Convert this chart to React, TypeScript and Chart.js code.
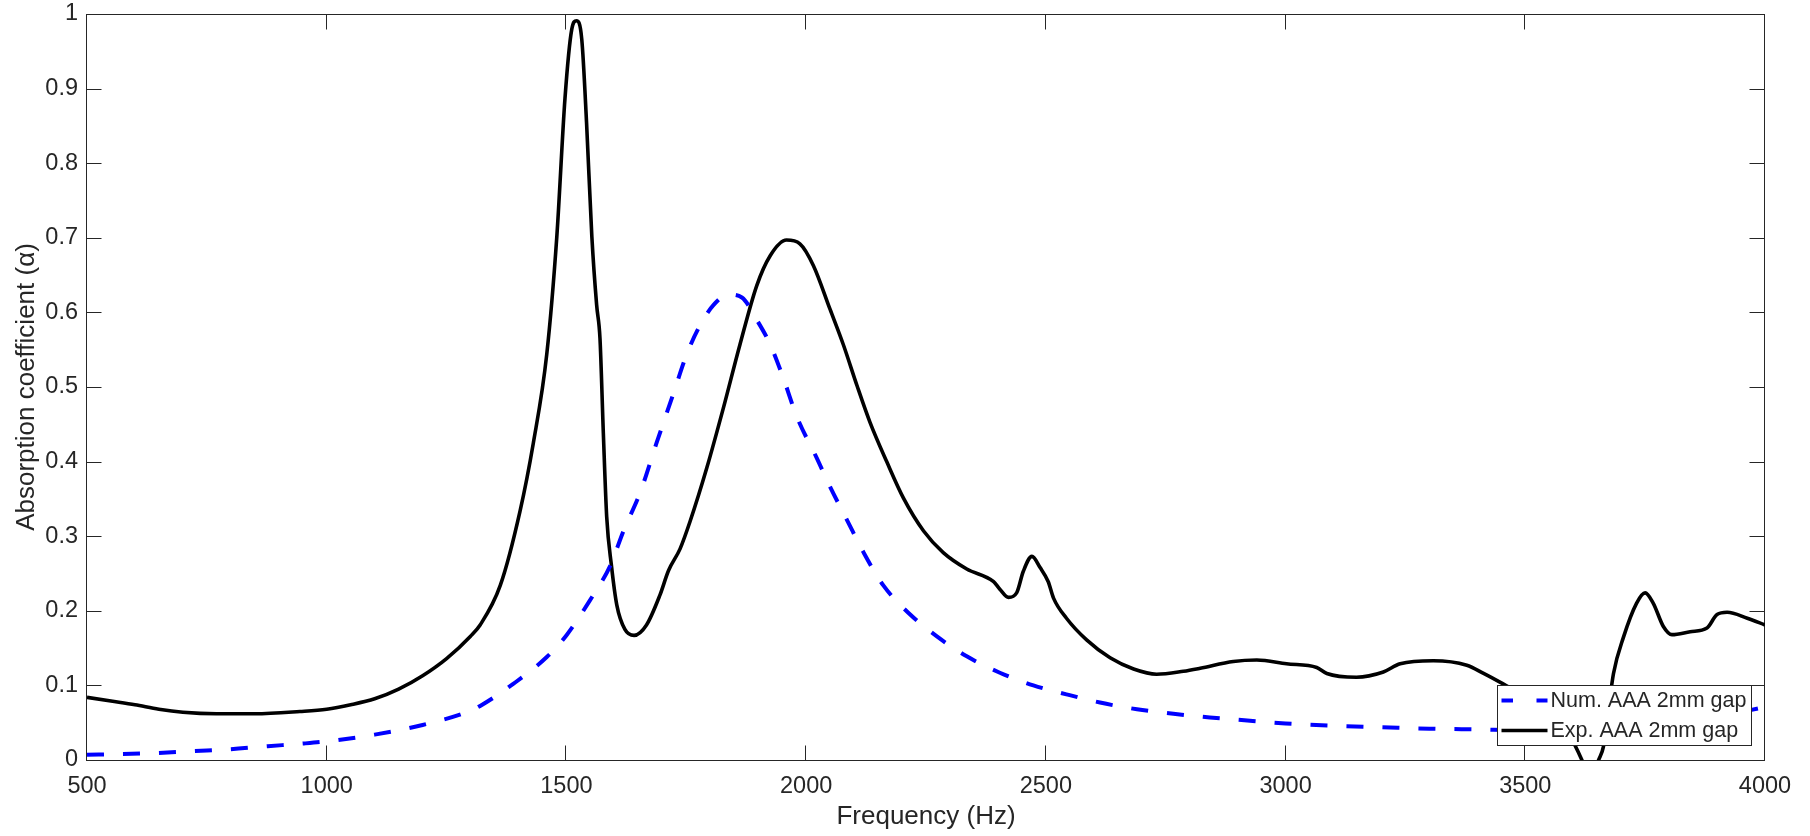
import React, { useEffect, useRef } from 'react';
import { Chart, registerables } from 'chart.js';

Chart.register(...registerables);

// ---- Data ----
const numFreq = [
  500, 575, 650, 725, 800, 877, 950, 1000, 1100, 1200, 1300, 1320, 1389, 1459, 1501, 1549,
  1591, 1619, 1654, 1688, 1723, 1751, 1779, 1807, 1838, 1866, 1897, 1925, 1953, 1980,
  2022, 2050, 2085, 2120, 2161, 2217, 2272, 2335, 2404, 2474, 2543, 2613, 2690, 2766,
  2842, 2920, 3000, 3100, 3200, 3300, 3400, 3500, 3600, 3700, 3800, 3900, 4000,
];
const numAlpha = [
  0.007, 0.008, 0.0095, 0.012, 0.0145, 0.0185, 0.022, 0.025, 0.034, 0.047, 0.066, 0.0725,
  0.102, 0.138, 0.168, 0.214, 0.26, 0.307, 0.359, 0.425, 0.491, 0.544, 0.583, 0.61, 0.624,
  0.62, 0.59, 0.557, 0.511, 0.461, 0.405, 0.366, 0.322, 0.278, 0.234, 0.195, 0.166,
  0.139, 0.117, 0.1, 0.088, 0.077, 0.068, 0.062, 0.057, 0.053, 0.049, 0.046, 0.044,
  0.042, 0.041, 0.04, 0.041, 0.044, 0.05, 0.058, 0.071,
];

const expFreq = [
  500, 550, 600, 650, 700, 770, 850, 944, 1000, 1050, 1100, 1150, 1200, 1250, 1300, 1320,
  1362, 1403, 1431, 1459, 1480, 1497, 1511, 1521, 1532, 1542, 1553, 1563, 1570, 1577,
  1584, 1594, 1605, 1622, 1641, 1667, 1695, 1713, 1737, 1758, 1793, 1827, 1862, 1897,
  1925, 1959, 1987, 2015, 2050, 2078, 2106, 2133, 2168, 2203, 2245, 2286, 2335, 2391,
  2404, 2422, 2439, 2453, 2471, 2488, 2505, 2516, 2543, 2585, 2634, 2683, 2731, 2787,
  2822, 2891, 2940, 3002, 3065, 3086, 3148, 3204, 3239, 3308, 3378, 3413, 3448, 3500,
  3550, 3590, 3618, 3635, 3653, 3663, 3684, 3705, 3732, 3750, 3767, 3788, 3806, 3844,
  3879, 3900, 3921, 3963, 4000,
];
const expAlpha = [
  0.084, 0.079, 0.074, 0.068, 0.064, 0.062, 0.062, 0.065, 0.068, 0.074, 0.082, 0.095,
  0.113, 0.136, 0.166, 0.181, 0.234, 0.333, 0.425, 0.544, 0.702, 0.887, 0.979, 0.991,
  0.966, 0.854, 0.702, 0.61, 0.565, 0.438, 0.326, 0.26, 0.208, 0.175, 0.167, 0.181,
  0.221, 0.254, 0.283, 0.32, 0.392, 0.471, 0.557, 0.636, 0.676, 0.697, 0.692, 0.663,
  0.604, 0.556, 0.502, 0.453, 0.4, 0.351, 0.307, 0.278, 0.256, 0.239, 0.229, 0.218,
  0.224, 0.253, 0.273, 0.258, 0.239, 0.217, 0.19, 0.161, 0.137, 0.122, 0.115, 0.119,
  0.123, 0.132, 0.134, 0.129, 0.124, 0.116, 0.111, 0.118, 0.129, 0.133, 0.127, 0.116,
  0.104, 0.085, 0.062, 0.035, 0.0, -0.03, 0.0, 0.018, 0.116, 0.165, 0.21, 0.224, 0.21,
  0.179, 0.168, 0.172, 0.177, 0.195, 0.198, 0.19, 0.181,
];

const xTickValues = [500, 1000, 1500, 2000, 2500, 3000, 3500, 4000];
const yTickValues = [0, 0.1, 0.2, 0.3, 0.4, 0.5, 0.6, 0.7, 0.8, 0.9, 1];
const seriesLabels = ['Num. AAA 2mm gap', 'Exp. AAA 2mm gap'];
const xTitle = 'Frequency (Hz)';
const yTitle = 'Absorption coefficient (\u03B1)';

const FONT = "'Liberation Sans', Arial, Helvetica, sans-serif";
const TEXT = '#262626';
const NUM_COLOR = '#0000ff';
const EXP_COLOR = '#000000';

const axesBoxPlugin = {
  id: 'axesBox',
  beforeDatasetsDraw(chart: any) {
    const { ctx, chartArea: a, scales } = chart;
    ctx.save();
    ctx.strokeStyle = TEXT;
    ctx.lineWidth = 1;
    const L = Math.round(a.left) - 0.5;
    const R = Math.round(a.right) - 0.5;
    const T = Math.round(a.top) + 0.5;
    const B = Math.round(a.bottom) + 0.5;
    ctx.strokeRect(L, T, R - L, B - T);
    const tl = 15;
    ctx.beginPath();
    for (const v of xTickValues) {
      const px = Math.round(scales.x.getPixelForValue(v)) - 0.5;
      ctx.moveTo(px, B);
      ctx.lineTo(px, B - tl);
      ctx.moveTo(px, T);
      ctx.lineTo(px, T + tl);
    }
    for (const v of yTickValues) {
      const py = Math.round(scales.y.getPixelForValue(v)) + 0.5;
      ctx.moveTo(L, py);
      ctx.lineTo(L + tl, py);
      ctx.moveTo(R, py);
      ctx.lineTo(R - tl, py);
    }
    ctx.stroke();
    ctx.restore();
  },
  afterDatasetsDraw(chart: any) {
    const { ctx, chartArea: a } = chart;
    ctx.save();
    const w = 254;
    const h = 60;
    const x0 = Math.round(a.right) - 14 - w + 0.5;
    const y0 = Math.round(a.bottom) - 15 - h + 0.5;
    ctx.fillStyle = '#ffffff';
    ctx.fillRect(x0, y0, w, h);
    ctx.strokeStyle = TEXT;
    ctx.lineWidth = 1;
    ctx.strokeRect(x0, y0, w, h);

    const sx0 = x0 + 4;
    const sx1 = x0 + 50;
    const rows = [y0 + 15, y0 + 45];
    ctx.beginPath();
    ctx.strokeStyle = NUM_COLOR;
    ctx.lineWidth = 4;
    ctx.setLineDash([11.5, 23.5]);
    ctx.moveTo(sx0, rows[0]);
    ctx.lineTo(sx1, rows[0]);
    ctx.stroke();
    ctx.beginPath();
    ctx.setLineDash([]);
    ctx.strokeStyle = EXP_COLOR;
    ctx.lineWidth = 3.6;
    ctx.moveTo(sx0, rows[1]);
    ctx.lineTo(sx1, rows[1]);
    ctx.stroke();

    ctx.fillStyle = TEXT;
    ctx.font = `21.5px ${FONT}`;
    ctx.textBaseline = 'middle';
    ctx.textAlign = 'left';
    ctx.fillText(seriesLabels[0], sx1 + 3, rows[0] + 1);
    ctx.fillText(seriesLabels[1], sx1 + 3, rows[1] + 1);
    ctx.restore();
  },
};

export default function App() {
  const canvasRef = useRef<HTMLCanvasElement | null>(null);

  useEffect(() => {
    const canvas = canvasRef.current;
    if (!canvas) return;
    const numData = numFreq.map((f, i) => ({ x: f, y: numAlpha[i] }));
    const expData = expFreq.map((f, i) => ({ x: f, y: expAlpha[i] }));

    const chart = new Chart(canvas, {
      type: 'line',
      data: {
        datasets: [
          {
            label: seriesLabels[0],
            data: numData,
            borderColor: NUM_COLOR,
            borderWidth: 4,
            borderDash: [17, 19],
            pointRadius: 0,
            fill: false,
            cubicInterpolationMode: 'monotone',
          },
          {
            label: seriesLabels[1],
            data: expData,
            borderColor: EXP_COLOR,
            borderWidth: 3.6,
            pointRadius: 0,
            fill: false,
            cubicInterpolationMode: 'monotone',
          },
        ],
      },
      options: {
        animation: false,
        responsive: false,
        devicePixelRatio: 1,
        layout: { padding: { left: 0, right: 45, top: 14, bottom: 0 } },
        plugins: {
          legend: { display: false },
          tooltip: { enabled: false },
        },
        scales: {
          x: {
            type: 'linear',
            min: 500,
            max: 4000,
            afterBuildTicks: (scale: any) => {
              scale.ticks = xTickValues.map((v) => ({ value: v }));
            },
            afterFit: (scale: any) => {
              scale.height = 76;
              scale.paddingLeft = 0;
              scale.paddingRight = 0;
            },
            grid: { display: false, drawTicks: false },
            border: { display: false },
            ticks: {
              autoSkip: false,
              maxRotation: 0,
              padding: 12,
              color: TEXT,
              font: { family: FONT, size: 23.5, lineHeight: 1.2 },
              callback: (v: any) => String(v),
            },
            title: {
              display: true,
              text: xTitle,
              color: TEXT,
              font: { family: FONT, size: 26, lineHeight: 1.2 },
              padding: { top: 0, bottom: 4 },
            },
          },
          y: {
            type: 'linear',
            min: 0,
            max: 1,
            afterBuildTicks: (scale: any) => {
              scale.ticks = yTickValues.map((v) => ({ value: v }));
            },
            afterFit: (scale: any) => {
              scale.width = 87;
              scale.paddingTop = 0;
              scale.paddingBottom = 0;
            },
            grid: { display: false, drawTicks: false },
            border: { display: false },
            ticks: {
              autoSkip: false,
              padding: 9,
              color: TEXT,
              font: { family: FONT, size: 23.5, lineHeight: 1 },
              callback: (v: any) => String(v),
            },
            title: {
              display: true,
              text: yTitle,
              color: TEXT,
              font: { family: FONT, size: 26, lineHeight: 1.2 },
              padding: { top: 11, bottom: 0 },
            },
          },
        },
      },
      plugins: [axesBoxPlugin],
    });

    return () => {
      chart.destroy();
    };
  }, []);

  return (
    <div style={{ position: 'absolute', left: 0, top: 0, width: 1810, height: 836, background: '#ffffff' }}>
      <canvas ref={canvasRef} width={1810} height={836} style={{ display: 'block' }} />
    </div>
  );
}
